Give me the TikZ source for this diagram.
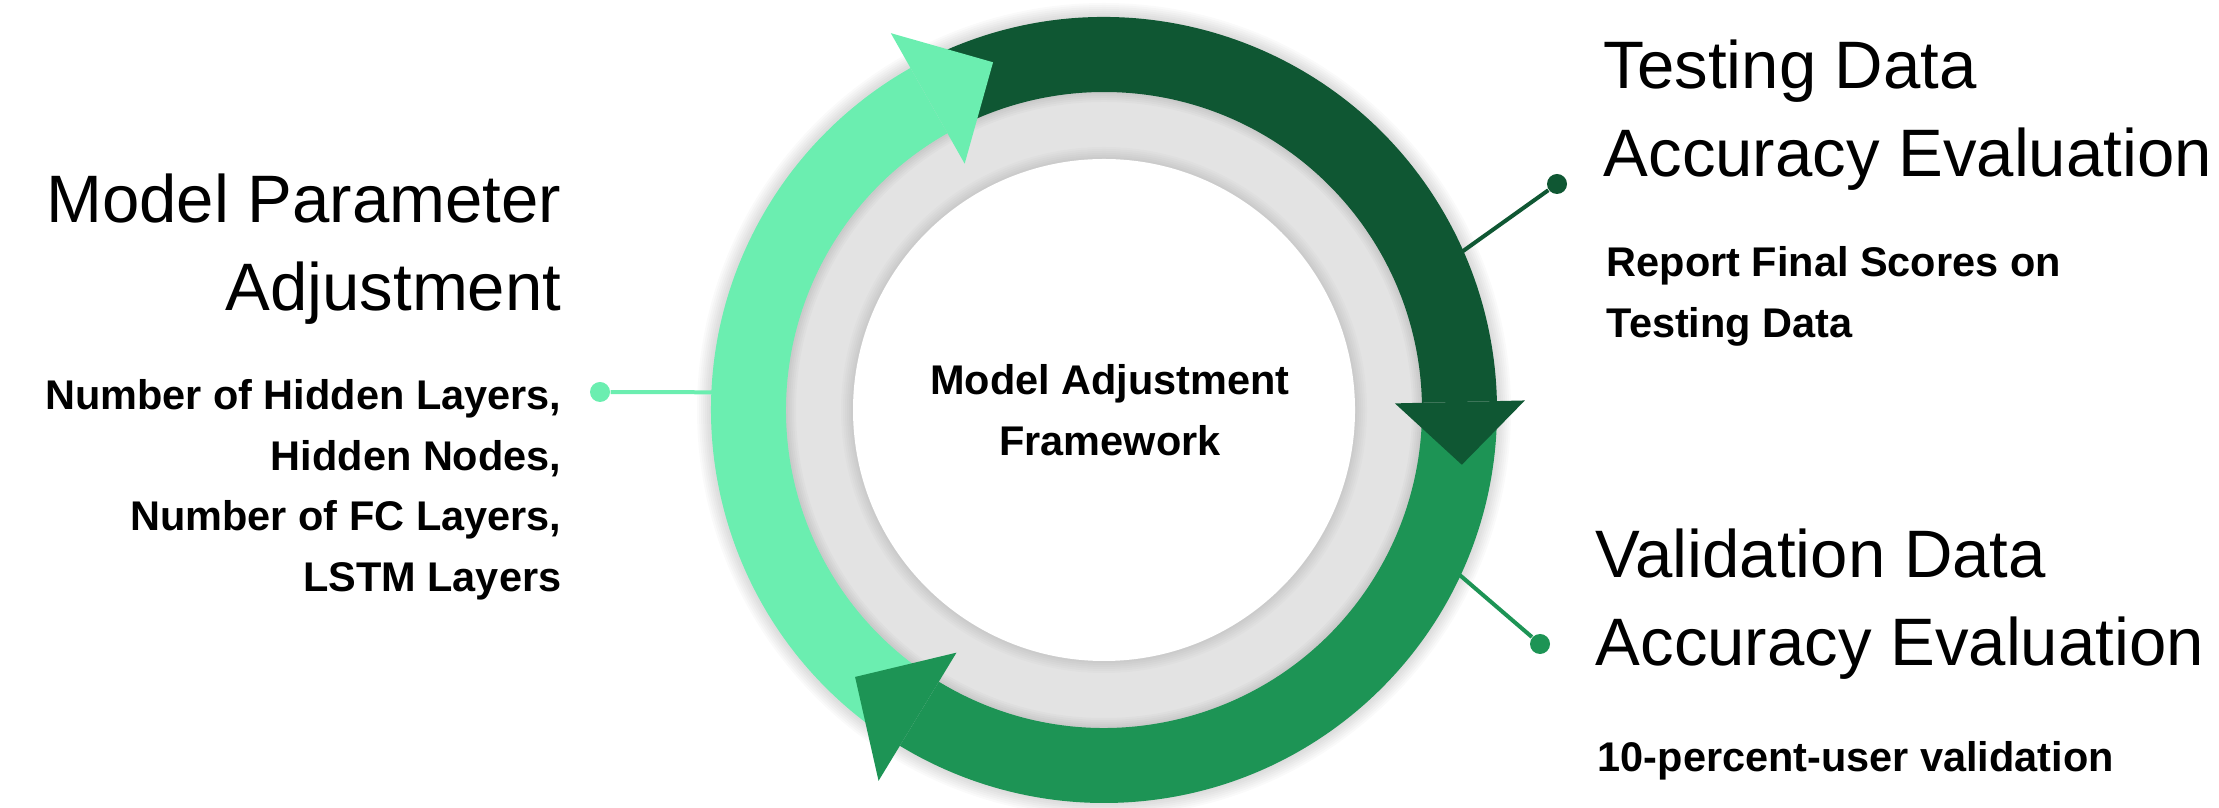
\documentclass[tikz,border=0pt]{standalone}
\usepackage{fontspec}
\setmainfont{Liberation Sans}
\usetikzlibrary{calc}
\definecolor{darkgreen}{HTML}{0F5733}
\definecolor{midgreen}{HTML}{1D9455}
\definecolor{lightgreen}{HTML}{6BEEB0}
\definecolor{ringgray}{HTML}{E3E3E3}
\def\ringbody[#1](#2:#3){\fill[#1] ($(C)+(#2:393)$) arc (#2:#3:393) -- ($(C)+(#3:318)$) arc (#3:#2:318) -- cycle;}
\def\ringhead[#1](#2:#3:#4:#5:#6){\fill[#1] ($(C)+(#2:#5)$) -- ($(C)+(#3:#6)$) -- ($(C)+(#2:#4)$) -- cycle;}

\begin{document}
\begin{tikzpicture}[x=0.1mm,y=0.1mm,
  title/.style={inner sep=0pt, align=#1, font=\fontsize{19.1}{25}\selectfont},
  detail/.style={inner sep=0pt, align=#1, font=\bfseries\fontsize{11.8}{17.2}\selectfont},
  enddot/.style={circle, fill=#1, inner sep=0pt, minimum size=2mm}]
	%%%%% START %%%%%
	\useasboundingbox (0,0) rectangle (2219,808);
	\coordinate (C) at (1104,398);
	
	% soft shadows round the ring and the inner disc
	\foreach \r in {2,4,...,14}
		\fill[black, opacity=0.018] (C) circle (393+\r);
	\fill[ringgray] (C) circle (318);
	\foreach \r in {2,4,...,12}
		\fill[black, opacity=0.014] (C) circle (251+\r);
	\fill[white] (C) circle (251);
	\foreach \r in {4,8,...,20}
		\draw[black, opacity=0.018, line width=\r*0.1mm] (C) circle (318);
	
	\ringbody[lightgreen](238.5:119.5);
	\ringbody[darkgreen](119.3:1.3);
	\ringbody[midgreen](1:-121.3);
	\ringhead[lightgreen](119.5:107.7:283:433:365);
	\ringhead[darkgreen](1.3:-8.7:291:421:362);
	\ringhead[midgreen](-121.3:-133:284:434:365);
	
	\node[detail=center] (centre) at (1110,398) {Model Adjustment\\Framework};
	
	\node[title=right, anchor=north east] (partitle) at (562,635) {Model Parameter\\Adjustment};
	\node[detail=right, anchor=north east] (pardetail) at (562,429) {Number of Hidden Layers,\\Hidden Nodes,\\Number of FC Layers,\\LSTM Layers};
	\node[enddot=lightgreen] (pardot) at (600,416) {};
	\coordinate (parring) at ($(C)+(177.4:390)$);
	\draw[lightgreen, line width=0.4mm] (pardot) -- (parring);
	
	\node[title=left, anchor=north west] (testtitle) at (1603,769) {Testing Data\\Accuracy Evaluation};
	\node[detail=left, anchor=north west] (testdetail) at (1606,562) {Report Final Scores on\\Testing Data};
	\node[enddot=darkgreen] (testdot) at (1557,624) {};
	\coordinate (testring) at ($(C)+(23.8:390)$);
	\draw[darkgreen, line width=0.4mm] (testdot) -- (testring);
	
	\node[title=left, anchor=north west] (valtitle) at (1595,280) {Validation Data\\Accuracy Evaluation};
	\node[detail=left, anchor=north west] (valdetail) at (1597,67) {10-percent-user validation};
	\node[enddot=midgreen] (valdot) at (1540,164) {};
	\coordinate (valring) at ($(C)+(-24.8:390)$);
	\draw[midgreen, line width=0.4mm] (valdot) -- (valring);
	%%%%% END %%%%%
\end{tikzpicture}
\end{document}
